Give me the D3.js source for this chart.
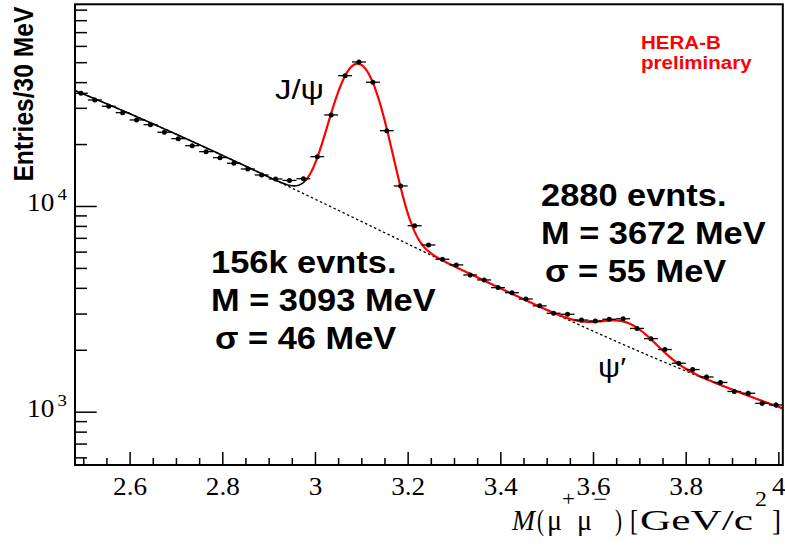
<!DOCTYPE html>
<html lang="en">
<head>
<meta charset="UTF-8">
<title>HERA-B dimuon mass</title>
<style>
  body { margin: 0; background: #fff; }
  svg { display: block; }
  .frame { fill: none; stroke: #000; stroke-width: 2; }
  .tick line { stroke: #000; stroke-width: 1.5; }
  .bg-fit { fill: none; stroke: #000; stroke-width: 1.3; stroke-dasharray: 2.5 2.5; }
  .fit-black { fill: none; stroke: #000; stroke-width: 1.6; }
  .fit-red { fill: none; stroke: #ff0000; stroke-width: 2.2; }
  .err { stroke: #000; stroke-width: 1.3; }
  .pt { fill: #000; }
  .big { font-family: "Liberation Sans", Arial, sans-serif; font-weight: bold; font-size: 31px; fill: #000; }
</style>
</head>
<body>
<svg></svg>
<script src="https://d3js.org/d3.v7.min.js"></script>
<script>
// histogram: bin centres (GeV) and entries per 30 MeV bin
var massBins = [2.495, 2.525, 2.555, 2.585, 2.615, 2.645, 2.675, 2.705, 2.735, 2.765, 2.795,
                2.825, 2.855, 2.885, 2.915, 2.945, 2.975, 3.005, 3.035, 3.065, 3.095, 3.125,
                3.155, 3.185, 3.215, 3.245, 3.275, 3.305, 3.335, 3.365, 3.395, 3.425, 3.455,
                3.485, 3.515, 3.545, 3.575, 3.605, 3.635, 3.665, 3.695, 3.725, 3.755, 3.785,
                3.815, 3.845, 3.875, 3.905, 3.935, 3.965, 3.995];
var entries = [35300, 32760, 30530, 28420, 26190, 24850, 22820, 21250, 19640, 18370, 17180,
               16130, 15130, 14150, 13530, 13310, 13570, 17370, 27700, 43000, 50100, 39950,
               23230, 12510, 8020, 6460, 5510, 5170, 4620, 4370, 4010, 3790, 3530,
               3270, 3010, 2975, 2790, 2760, 2815, 2830, 2540, 2265, 2005, 1720,
               1603, 1475, 1387, 1254, 1229, 1098, 1078];
var binWidth = 0.03;

// fit results (signal numbers as quoted on the plot)
var jpsiFit = { n: 156000, mass: 3.093, sigma: 0.046 };
var psi2Fit = { n: 2880, mass: 3.672, sigma: 0.055 };
// background: log10 polynomial in (m - 3.25)
var bgCoef = [3.7615, -1.0854, 0.0401, 0.1273];
var blackRange = [2.48, 2.985];
var redRange = [2.98, 4.01];

// axes
var xDomain = [2.48, 4.01];
var yDomain = [550.7, 95900];
var xMajorTicks = [2.6, 2.8, 3, 3.2, 3.4, 3.6, 3.8, 4];
var xMinorTicks = [2.5, 2.55, 2.65, 2.7, 2.75, 2.85, 2.9, 2.95, 3.05, 3.1, 3.15, 3.25, 3.3,
                   3.35, 3.45, 3.5, 3.55, 3.65, 3.7, 3.75, 3.85, 3.9, 3.95];
var yMajorTicks = [1000, 10000];
var yMajorExp = ["3", "4"];
var yMinorTicks = [600, 700, 800, 900, 2000, 3000, 4000, 5000, 6000, 7000, 8000, 9000,
                   20000, 30000, 40000, 50000, 60000, 70000, 80000, 90000];

var width = 785, height = 549;
var SX = 1.11; // the picture is a bit wider than tall
var serifFont = "'Liberation Serif', 'Times New Roman', serif";
var sansFont = "'Liberation Sans', Arial, sans-serif";

var svg = d3.select("svg").attr("width", width).attr("height", height);

var x = d3.scaleLinear().domain(xDomain).range([74, 783]);
var y = d3.scaleLog().domain(yDomain).range([465, 4]);

function background(m) {
    var u = m - 3.25;
    return Math.pow(10, bgCoef[0] + bgCoef[1] * u + bgCoef[2] * u * u + bgCoef[3] * u * u * u);
}
function gauss(p, m) {
    var amp = p.n * binWidth / (Math.sqrt(2 * Math.PI) * p.sigma);
    var z = (m - p.mass) / p.sigma;
    return amp * Math.exp(-0.5 * z * z);
}
function total(m) {
    return background(m) + gauss(jpsiFit, m) + gauss(psi2Fit, m);
}
function sample(r, f) {
    var pts = [];
    for (var m = r[0]; m <= r[1] + 1e-9; m += 0.002) pts.push([m, f(m)]);
    return pts;
}

var line = d3.line().x(function(d) { return x(d[0]); }).y(function(d) { return y(d[1]); });

svg.append("clipPath").attr("id", "clip")
    .append("rect").attr("x", 74).attr("y", 4).attr("width", 709).attr("height", 461);
var inner = svg.append("g").attr("clip-path", "url(#clip)");

// background fit (dashed), then full fit
inner.append("path").datum(sample(xDomain, background)).attr("class", "bg-fit").attr("d", line);
inner.append("path").datum(sample(blackRange, total)).attr("class", "fit-black").attr("d", line);
inner.append("path").datum(sample(redRange, total)).attr("class", "fit-red").attr("d", line);

// data points
var pts = inner.selectAll(".bin").data(massBins.map(function(m, i) { return [m, entries[i]]; }))
    .enter().append("g").attr("class", "bin");
pts.append("line").attr("class", "err")
    .attr("x1", function(d) { return x(d[0] - binWidth / 2); })
    .attr("x2", function(d) { return x(d[0] + binWidth / 2); })
    .attr("y1", function(d) { return y(d[1]); })
    .attr("y2", function(d) { return y(d[1]); });
pts.append("line").attr("class", "err")
    .attr("x1", function(d) { return x(d[0]); })
    .attr("x2", function(d) { return x(d[0]); })
    .attr("y1", function(d) { return y(d[1] - Math.sqrt(d[1])); })
    .attr("y2", function(d) { return y(d[1] + Math.sqrt(d[1])); });
pts.append("circle").attr("class", "pt")
    .attr("cx", function(d) { return x(d[0]); })
    .attr("cy", function(d) { return y(d[1]); })
    .attr("r", 2.5);

// x axis ticks
var xMajor = svg.append("g").attr("transform", "translate(0,465)")
    .call(d3.axisBottom(x).tickValues(xMajorTicks).tickSize(-13).tickPadding(13)
        .tickFormat(function(d) { return String(d); }));
svg.append("g").attr("transform", "translate(0,465)")
    .call(d3.axisBottom(x).tickValues(xMinorTicks).tickSize(-7).tickFormat(""));
// y axis ticks
svg.append("g").attr("transform", "translate(75,0)")
    .call(d3.axisLeft(y).tickValues(yMajorTicks).tickSize(-21.7).tickFormat(""));
svg.append("g").attr("transform", "translate(75,0)")
    .call(d3.axisLeft(y).tickValues(yMinorTicks).tickSize(-12).tickFormat(""));
svg.selectAll(".domain").remove();
xMajor.selectAll(".tick text")
    .style("font-family", serifFont).style("font-size", "24.5px").style("fill", "#000")
    .attr("transform", "scale(" + SX + ",1)");

// y labels 10^n
yMajorTicks.forEach(function(v, i) {
    var t = svg.append("text")
        .attr("text-anchor", "end")
        .style("font-family", serifFont).style("fill", "#000")
        .attr("transform", "translate(67," + (y(v) + 5) + ") scale(" + SX + ",1)");
    t.append("tspan").style("font-size", "24.5px").text("10");
    t.append("tspan").attr("dx", 3).attr("dy", -11).style("font-size", "17px").text(yMajorExp[i]);
});

// frame
svg.append("rect").attr("class", "frame")
    .attr("x", 75).attr("y", 4.3).attr("width", 707.8).attr("height", 460.7);

// texts
function stretched(px, py, cls, str) {
    return svg.append("text").attr("class", cls)
        .attr("transform", "translate(" + px + "," + py + ") scale(" + SX + ",1)")
        .text(str);
}
svg.append("text")
    .attr("transform", "translate(33,6.7) scale(" + SX + ",1) rotate(-90)")
    .attr("text-anchor", "end")
    .style("font-family", sansFont)
    .style("font-weight", "bold").style("font-size", "24.6px")
    .text("Entries/30 MeV");

stretched(211, 273, "big", "156k evnts.");
stretched(211, 311, "big", "M = 3093 MeV");
stretched(215, 349, "big", "σ = 46 MeV");
stretched(541, 206, "big", "2880 evnts.");
stretched(541, 244, "big", "M = 3672 MeV");
stretched(545, 282, "big", "σ = 55 MeV");

stretched(641, 49.3, "big", "HERA-B").style("font-size", "18.5px").style("fill", "#ff0000");
stretched(641, 68.5, "big", "preliminary").style("font-size", "18.5px").style("fill", "#ff0000");

svg.append("text").attr("x", 275).attr("y", 99)
    .attr("textLength", 49).attr("lengthAdjust", "spacingAndGlyphs")
    .style("font-family", sansFont).style("font-size", "27px").text("J/ψ");
stretched(598, 377, "lbl", "ψ′").style("font-family", sansFont).style("font-size", "28px");

// x title, placed piece by piece like the TLatex original
var xTitle = [
    { s: "M", x: 512, w: 23, sup: false, it: true },
    { s: "(", x: 537, w: 7, sup: false },
    { s: "μ", x: 547, w: 15, sup: false },
    { s: "+", x: 562, w: 13, sup: true },
    { s: "μ", x: 577, w: 15, sup: false },
    { s: "−", x: 593, w: 14, sup: true },
    { s: ")", x: 615, w: 7, sup: false },
    { s: "[", x: 630, w: 8, sup: false },
    { s: "GeV/c", x: 640, w: 113, sup: false },
    { s: "2", x: 755, w: 12, sup: true },
    { s: "]", x: 772, w: 9, sup: false }
];
xTitle.forEach(function(p) {
    svg.append("text")
        .attr("x", p.x).attr("y", p.sup ? 506 : 530)
        .attr("textLength", p.w).attr("lengthAdjust", "spacingAndGlyphs")
        .style("font-family", serifFont).style("fill", "#000")
        .style("font-size", p.sup ? "21px" : "30px")
        .style("font-style", p.it ? "italic" : "normal")
        .text(p.s);
});
</script>
</body>
</html>
